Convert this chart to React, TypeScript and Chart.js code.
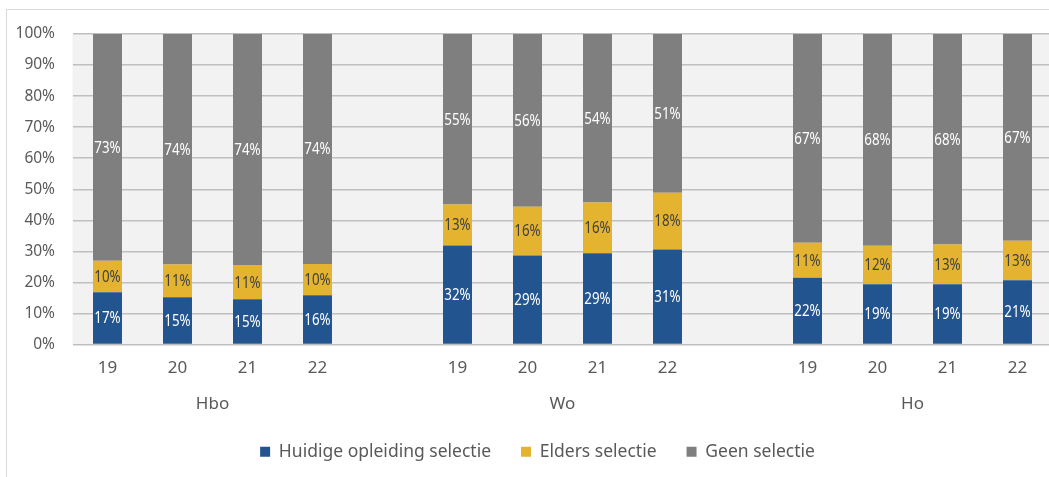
import React, { useEffect, useRef } from "react";
import { Chart, registerables } from "chart.js";

Chart.register(...registerables);

// ---- Data ----
const categories = ["19", "20", "21", "22", "", "19", "20", "21", "22", "", "19", "20", "21", "22"];
const groupNames = ["Hbo", "Wo", "Ho"];
const groupFirstIndex = [0, 5, 10];
const groupLastIndex = [3, 8, 13];

const huidigeSelectie = [16.8, 15.2, 14.6, 15.9, null, 31.9, 28.7, 29.4, 30.6, null, 21.5, 19.4, 19.4, 20.7];
const eldersSelectie = [10.2, 10.6, 11.0, 10.0, null, 13.2, 15.7, 16.3, 18.3, null, 11.3, 12.4, 12.8, 12.7];
const geenSelectie = [73.0, 74.2, 74.4, 74.1, null, 54.9, 55.6, 54.3, 51.1, null, 67.2, 68.2, 67.8, 66.6];

const seriesNames = ["Huidige opleiding selectie", "Elders selectie", "Geen selectie"];
const seriesColors = ["#22548f", "#e4b430", "#7f7f7f"];
const labelColors = ["#ffffff", "#404040", "#ffffff"];

const FONT = "'Noto Sans', 'DejaVu Sans', sans-serif";
const TEXT_COLOR = "#595959";

const plotBackground = {
  id: "plotBackground",
  beforeDraw(chart: any) {
    const { ctx, chartArea } = chart;
    ctx.save();
    ctx.fillStyle = "#f2f2f2";
    ctx.fillRect(chartArea.left, chartArea.top, chartArea.right - chartArea.left, chartArea.bottom - chartArea.top);
    ctx.restore();
  },
};

const dataLabels = {
  id: "dataLabels",
  afterDatasetsDraw(chart: any) {
    const { ctx } = chart;
    const sx = 0.86;
    chart.data.datasets.forEach((ds: any, di: number) => {
      const meta = chart.getDatasetMeta(di);
      meta.data.forEach((bar: any, i: number) => {
        const v = ds.data[i];
        if (v === null || v === undefined) return;
        const p = bar.getProps(["x", "y", "base"], true);
        ctx.save();
        ctx.font = `15.5px ${FONT}`;
        ctx.textAlign = "center";
        ctx.textBaseline = "middle";
        ctx.fillStyle = labelColors[di];
        ctx.translate(p.x, (p.y + p.base) / 2 + 1);
        ctx.scale(sx, 1);
        ctx.fillText(Math.round(v) + "%", 0, 0);
        ctx.restore();
      });
    });
  },
};

const groupLabels = {
  id: "groupLabels",
  afterDraw(chart: any) {
    const { ctx } = chart;
    const xs = chart.scales.x;
    ctx.save();
    ctx.font = `17px ${FONT}`;
    ctx.fillStyle = TEXT_COLOR;
    ctx.textAlign = "center";
    ctx.textBaseline = "middle";
    groupNames.forEach((name, g) => {
      const x = (xs.getPixelForValue(groupFirstIndex[g]) + xs.getPixelForValue(groupLastIndex[g])) / 2;
      ctx.fillText(name, x, 404);
    });
    ctx.restore();
  },
};

export default function App() {
  const ref = useRef<HTMLCanvasElement | null>(null);

  useEffect(() => {
    if (!ref.current) return;
    const chart = new Chart(ref.current, {
      type: "bar",
      data: {
        labels: categories,
        datasets: [huidigeSelectie, eldersSelectie, geenSelectie].map((d, i) => ({
          label: seriesNames[i],
          data: d,
          backgroundColor: seriesColors[i],
          borderWidth: 0,
          categoryPercentage: 1,
          barPercentage: 0.414,
        })),
      },
      options: {
        animation: false,
        responsive: false,
        layout: { padding: { left: 12, right: 27, top: 34, bottom: 6.5 } },
        plugins: {
          tooltip: { enabled: false },
          legend: {
            position: "bottom",
            labels: {
              boxWidth: 10,
              boxHeight: 10,
              padding: 30,
              color: TEXT_COLOR,
              font: { family: FONT, size: 17.5 },
            },
          },
        },
        scales: {
          x: {
            stacked: true,
            grid: { display: false, drawTicks: false },
            border: { display: false },
            ticks: { color: TEXT_COLOR, font: { family: FONT, size: 17 }, padding: 13, autoSkip: false, maxRotation: 0 },
            afterFit: (s: any) => {
              s.height = 68.5;
            },
          },
          y: {
            stacked: true,
            min: 0,
            max: 100,
            grid: { color: "#bfbfbf", lineWidth: 1.5, drawTicks: false },
            border: { display: false },
            ticks: {
              stepSize: 10,
              color: TEXT_COLOR,
              padding: 17.5,
              font: { family: FONT, size: 15.5 },
              callback: (v: any) => v + "%",
            },
            afterFit: (s: any) => {
              s.width = 60.5;
            },
          },
          // empty spacer axis on the right (keeps the legend centred like the original)
          spacer: {
            type: "linear",
            position: "right",
            display: true,
            grid: { display: false, drawTicks: false },
            border: { display: false },
            ticks: { display: false },
            afterFit: (s: any) => {
              s.width = 10.5;
            },
          },
        },
      },
      plugins: [plotBackground, dataLabels, groupLabels],
    });
    return () => chart.destroy();
  }, []);

  return (
    <div style={{ position: "fixed", left: 0, top: 0, width: 1049, height: 477, overflow: "hidden", background: "#fff" }}>
      <div
        style={{
          position: "absolute",
          left: 6,
          top: 9,
          width: 1100,
          height: 520,
          border: "1px solid #d9d9d9",
        }}
      />
      <canvas ref={ref} width={1090} height={477} style={{ position: "absolute", left: 0, top: 0, width: 1090, height: 477 }} />
    </div>
  );
}
